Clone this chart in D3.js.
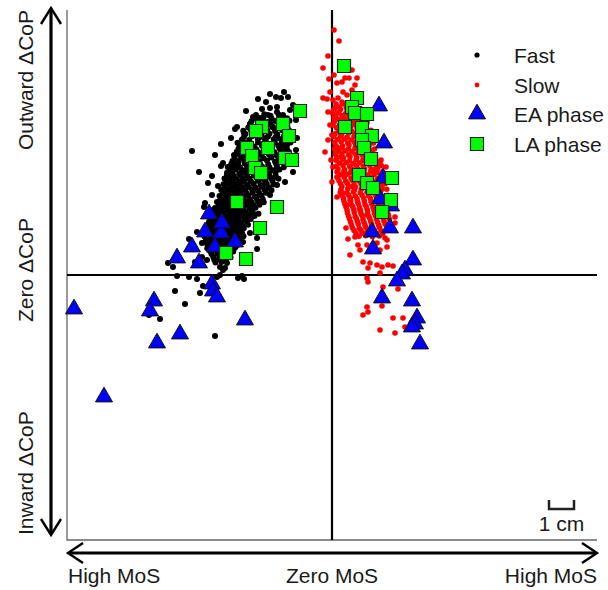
<!DOCTYPE html>
<html>
<head>
<meta charset="utf-8">
<script src="https://cdn.jsdelivr.net/npm/d3@7"></script>
<style>
  body { margin: 0; background: #fff; }
  svg { display: block; }
  text { font-family: "Liberation Sans", Arial, sans-serif; fill: #1a1a1a; }
</style>
</head>
<body>
<svg id="chart" width="608" height="590"></svg>
<script>
// Step-by-step samples: x = margin of stability offset (mm), y = ΔCoP (mm)
const fastPoints = [
  [-29.6,70.4],[-26.4,69.2],[-22.4,71.2],[-20.4,70.8],[-17.6,71.2],[-15.6,68.0],[-22.0,67.2],[-24.8,66.8],
  [-28.0,66.4],[-34.4,65.6],[-31.6,63.2],[-38.0,59.2],[-38.8,58.4],[-40.4,54.8],[-44.4,52.4],[-56.0,49.6],
  [-53.2,41.2],[-49.6,36.8],[-50.8,28.8],[-43.6,44.8],[-44.4,43.6],[-42.0,40.0],[-38.4,44.4],[-23.6,59.2],
  [-22.0,65.2],[-26.4,54.8],[-21.6,54.8],[-14.0,54.8],[-18.0,52.0],[-15.6,41.2],[-18.8,37.2],[-22.0,36.0],
  [-22.8,39.2],[-20.0,45.2],[-24.8,32.0],[-42.0,32.0],[-43.6,29.6],[-40.0,36.0],[-36.0,34.0],[-51.2,27.2],
  [-44.8,29.2],[-40.0,28.8],[-42.8,26.0],[-39.6,24.0],[-36.8,26.0],[-33.6,28.0],[-31.6,24.8],[-34.0,22.0],
  [-36.8,18.8],[-32.8,16.8],[-30.0,14.8],[-30.0,10.4],[-35.6,13.2],[-41.6,15.2],[-40.0,10.0],[-52.0,12.8],
  [-52.0,7.2],[-54.0,17.2],[-54.8,5.2],[-50.0,6.0],[-57.2,14.4],[-65.6,4.8],[-63.6,3.2],[-44.8,3.2],
  [-43.6,2.0],[-62.0,-0.4],[-57.2,-0.8],[-54.0,-1.6],[-51.6,-4.4],[-46.0,-0.8],[-44.8,0.0],[-37.6,-1.2],
  [-35.2,-1.6],[-36.0,-0.4],[-62.8,-6.4],[-52.8,-7.2],[-58.8,-11.6],[-68.8,-17.6],[-73.2,-16.0],[-46.8,-24.4],
  [-42.8,2.8],[-16.8,66.0],[-14.4,62.0],[-19.6,64.0],[-25.6,64.0],[-28.8,62.8],[-32.8,60.4],[-35.2,56.8],
  [-17.2,49.2],[-16.0,46.8],[-14.4,50.0],[-24.8,72.4],[-19.2,73.2],[-46.8,48.0],[-48.0,39.6],[-45.6,35.6],
  [-48.0,32.0],[-47.6,26.0],[-49.2,21.2],[-47.6,18.0],
  [-30.4,64.0],[-27.1,64.3],[-24.6,63.7],[-21.3,64.1],
  [-32.2,61.5],[-28.9,61.8],[-25.8,61.2],[-22.7,61.6],[-19.5,61.3],[-17.0,61.7],
  [-33.5,59.0],[-30.1,59.3],[-26.4,58.8],[-23.9,59.2],[-20.6,58.9],[-17.8,59.1],
  [-34.6,56.4],[-31.5,56.7],[-28.2,56.2],[-25.0,56.5],[-21.9,56.3],[-18.5,56.6],
  [-36.0,54.2],[-33.1,54.0],[-29.7,54.4],[-26.8,54.1],[-23.3,54.3],[-20.2,54.0],[-17.4,54.4],
  [-36.9,51.6],[-34.3,51.9],[-31.2,51.4],[-28.0,51.7],[-24.6,51.5],[-21.5,51.8],[-18.9,51.5],
  [-38.1,49.3],[-35.0,49.1],[-32.6,49.5],[-29.5,49.2],[-26.2,49.4],[-23.0,49.1],[-19.9,49.4],
  [-39.0,46.8],[-36.2,47.0],[-33.8,46.6],[-30.7,46.9],[-27.4,46.7],[-24.3,47.0],[-21.2,46.6],
  [-40.3,44.4],[-37.5,44.2],[-34.9,44.6],[-32.0,44.3],[-28.8,44.5],[-25.5,44.2],[-22.4,44.5],
  [-40.9,42.1],[-38.6,42.3],[-35.7,41.9],[-33.1,42.2],[-30.0,42.0],[-26.9,42.3],[-23.7,41.9],[-21.0,42.2],
  [-41.6,39.7],[-39.2,39.5],[-36.6,39.9],[-34.0,39.6],[-31.2,39.8],[-28.3,39.5],[-25.1,39.9],[-22.5,39.6],
  [-42.2,37.5],[-39.8,37.7],[-37.4,37.3],[-35.1,37.6],[-32.4,37.4],[-29.5,37.7],[-26.6,37.3],[-23.8,37.6],
  [-42.9,35.1],[-40.5,34.9],[-38.3,35.3],[-35.9,35.0],[-33.3,35.2],[-30.6,34.9],[-27.9,35.3],[-25.2,35.0],
  [-43.6,32.8],[-41.3,33.0],[-39.0,32.6],[-36.8,32.9],[-34.2,32.7],[-31.7,33.0],[-29.0,32.6],[-26.4,32.9],
  [-44.5,30.4],[-42.0,30.2],[-39.9,30.6],[-37.6,30.3],[-35.3,30.5],[-32.8,30.2],[-30.2,30.6],[-27.7,30.3],
  [-45.3,28.0],[-43.0,28.2],[-40.8,27.8],[-38.5,28.1],[-36.1,27.9],[-33.7,28.2],[-31.4,27.8],[-29.0,28.1],
  [-46.4,25.7],[-44.1,25.5],[-41.7,25.9],[-39.4,25.6],[-37.2,25.8],[-34.8,25.5],[-32.3,25.9],
  [-47.2,23.5],[-45.0,23.7],[-42.6,23.3],[-40.3,23.6],[-38.0,23.4],[-35.7,23.7],[-33.5,23.3],[-31.0,23.6],
  [-48.0,21.2],[-45.8,21.0],[-43.5,21.4],[-41.2,21.1],[-38.9,21.3],[-36.6,21.0],[-34.1,21.4],
  [-49.1,18.9],[-46.9,19.1],[-44.7,18.7],[-42.1,19.0],[-39.8,18.8],[-37.5,19.1],[-35.3,18.7],
  [-49.8,16.6],[-47.5,16.4],[-45.2,16.8],[-43.0,16.5],[-40.6,16.7],[-38.3,16.4],[-36.0,16.8],
  [-50.4,14.2],[-48.2,14.4],[-45.9,14.0],[-43.8,14.3],[-41.5,14.1],[-39.2,14.4],[-37.0,14.0],
  [-49.6,11.9],[-47.2,11.7],[-44.8,12.1],[-42.5,11.8],[-40.3,12.0],[-38.1,11.7],
  [-48.7,9.5],[-46.3,9.7],[-44.0,9.3],[-41.7,9.6],[-39.5,9.4],
  [-47.5,7.2],[-45.1,7.0],[-42.9,7.4],[-40.6,7.1],
  [-46.6,5.0],[-44.2,5.2],[-42.0,4.8],
  [-31.0,62.8],[-27.5,62.9],[-24.2,62.6],[-20.9,62.9],[-18.0,62.7],
  [-32.8,60.3],[-29.5,60.5],[-27.6,60.1],[-24.6,60.4],[-21.3,60.2],[-18.6,60.5],
  [-35.5,57.7],[-32.4,57.9],[-29.0,57.5],[-25.9,57.8],[-22.8,57.6],[-19.9,57.9],[-16.9,57.6],
  [-35.2,55.3],[-32.0,55.5],[-28.9,55.1],[-25.6,55.4],[-22.5,55.2],[-19.3,55.5],
  [-37.8,52.9],[-35.2,53.1],[-32.5,52.7],[-29.6,53.0],[-26.0,52.8],[-22.9,53.1],[-20.1,52.7],[-16.6,53.0],
  [-37.4,50.5],[-34.0,50.7],[-30.3,50.3],[-27.2,50.6],[-24.0,50.4],[-21.0,50.7],[-18.0,50.3],
  [-39.2,48.0],[-37.0,48.2],[-34.3,47.8],[-31.4,48.1],[-28.3,47.9],[-25.2,48.2],[-22.1,47.8],[-19.0,48.1],
  [-39.8,45.6],[-37.3,45.8],[-35.0,45.4],[-32.3,45.7],[-29.1,45.5],[-26.0,45.8],[-22.8,45.4],[-20.1,45.7],
  [-41.7,43.2],[-39.4,43.4],[-36.8,43.0],[-34.0,43.3],[-31.4,43.1],[-28.0,43.4],[-25.0,43.0],[-22.0,43.3],[-19.3,43.1],
  [-42.0,40.9],[-39.8,41.1],[-37.1,40.7],[-34.6,41.0],[-31.7,40.8],[-28.6,41.1],[-25.5,40.7],[-22.6,41.0],
  [-43.0,38.6],[-40.6,38.8],[-38.2,38.4],[-35.8,38.7],[-33.0,38.5],[-30.1,38.8],[-27.5,38.4],[-24.4,38.7],[-21.4,38.5],
  [-43.4,36.3],[-41.2,36.5],[-38.9,36.1],[-36.5,36.4],[-34.0,36.2],[-31.3,36.5],[-28.6,36.1],[-26.1,36.4],[-23.4,36.2],
  [-44.3,34.0],[-41.9,34.2],[-39.6,33.8],[-37.3,34.1],[-34.7,33.9],[-32.0,34.2],[-29.6,33.8],[-27.0,34.1],[-24.2,33.9],
  [-45.0,31.6],[-42.6,31.8],[-40.4,31.4],[-38.1,31.7],[-35.7,31.5],[-33.4,31.8],[-30.8,31.4],[-28.2,31.7],
  [-46.0,29.2],[-43.7,29.4],[-41.4,29.0],[-39.1,29.3],[-36.9,29.1],[-34.5,29.4],[-32.1,29.0],[-29.6,29.3],[-27.3,29.1],
  [-46.8,26.8],[-44.6,27.0],[-42.3,26.6],[-40.1,26.9],[-37.8,26.7],[-35.5,27.0],[-33.0,26.6],[-30.6,26.9],
  [-47.8,24.6],[-45.5,24.8],[-43.3,24.4],[-41.0,24.7],[-38.7,24.5],[-36.4,24.8],[-34.0,24.4],[-31.8,24.7],[-29.4,24.5],
  [-48.6,22.3],[-46.5,22.5],[-44.2,22.1],[-42.0,22.4],[-39.6,22.2],[-37.3,22.5],[-35.0,22.1],[-32.5,22.4],
  [-49.5,20.0],[-47.4,20.2],[-45.1,19.8],[-42.8,20.1],[-40.4,19.9],[-38.2,20.2],[-35.9,19.8],[-33.6,20.1],
  [-50.3,17.7],[-48.2,17.9],[-46.0,17.5],[-43.8,17.8],[-41.4,17.6],[-39.1,17.9],[-36.8,17.5],
  [-51.0,15.4],[-48.9,15.6],[-46.6,15.2],[-44.4,15.5],[-42.1,15.3],[-39.9,15.6],[-37.6,15.2],[-35.4,15.5],
  [-50.8,13.0],[-48.5,13.2],[-46.3,12.8],[-44.1,13.1],[-41.9,12.9],[-39.7,13.2],[-37.3,12.8],
  [-49.9,10.7],[-47.6,10.9],[-45.4,10.5],[-43.2,10.8],[-41.0,10.6],[-38.8,10.9],
  [-48.2,8.4],[-45.8,8.6],[-43.5,8.2],[-41.2,8.5],
  [-47.1,6.1],[-44.8,6.3],[-42.5,5.9]
];

const slowPoints = [
  [0.8,98.0],[2.8,93.6],[-1.6,87.6],[-3.6,82.8],[-1.2,78.4],[0.8,80.0],[2.0,76.8],[4.0,77.2],
  [6.8,78.8],[8.0,82.0],[9.2,76.0],[8.0,74.0],[4.4,73.2],[6.0,72.0],[-3.6,70.8],[-2.0,70.4],
  [0.4,70.0],[2.4,70.8],[4.0,69.2],[-1.6,65.2],[1.2,66.8],[2.4,64.8],[3.2,62.0],[-0.8,60.0],
  [0.0,56.0],[-2.8,49.2],[2.0,51.2],[3.2,47.2],[0.4,43.2],[0.0,37.2],[2.0,39.2],[4.4,40.8],
  [19.2,44.8],[21.6,43.2],[16.4,42.0],[8.4,35.2],[7.2,30.0],[11.2,26.0],[14.0,24.0],[4.4,32.8],
  [6.0,28.0],[2.0,31.2],[10.0,78.8],[5.2,78.8],[-0.8,73.2],[11.2,72.0],[7.2,68.0],[0.8,62.8],
  [-1.6,54.0],[-0.4,46.0],[1.2,50.0],
  [6.4,14.4],[9.2,15.2],[12.0,16.8],[7.2,8.0],[11.2,10.0],[10.4,12.0],[14.0,12.0],[18.0,12.8],
  [22.0,14.0],[22.0,11.2],[19.2,10.0],[25.2,23.2],[25.2,20.8],[12.4,5.2],[15.2,4.8],[14.4,2.8],
  [18.0,4.0],[20.0,3.2],[22.4,4.0],[24.4,3.6],[14.0,-1.2],[14.4,-2.8],[19.2,0.8],[20.4,-4.8],
  [26.4,-5.6],[20.0,-12.4],[14.0,-12.8],[14.4,-14.8],[12.4,-16.0],[24.4,-17.2],[28.4,-17.2],[19.2,-22.0],
  [25.2,-23.2],[29.2,-20.8],[21.2,14.8],[5.6,18.8],
  [1.6,68.4],[4.3,68.4],[7.0,68.2],[9.8,68.6],
  [0.6,66.0],[3.4,66.2],[6.1,65.8],[8.9,66.1],[11.6,65.9],
  [1.4,63.6],[4.0,63.8],[6.9,63.4],[9.6,63.7],[12.3,63.5],
  [0.9,61.2],[3.6,61.0],[6.2,61.4],[8.8,61.1],[11.5,61.3],[14.0,61.0],
  [1.8,58.9],[4.5,59.1],[7.3,58.7],[10.0,59.0],[12.6,58.8],
  [1.2,56.5],[3.8,56.3],[6.6,56.7],[9.3,56.4],[12.0,56.6],[14.7,56.3],
  [2.3,54.2],[5.0,54.4],[7.7,54.0],[10.4,54.3],[13.1,54.1],[15.4,54.4],
  [1.5,51.8],[4.2,51.6],[6.8,52.0],[9.5,51.7],[12.2,51.9],[14.8,51.6],
  [2.6,49.5],[5.3,49.7],[8.0,49.3],[10.7,49.6],[13.4,49.4],[16.0,49.7],
  [1.9,47.1],[4.6,46.9],[7.2,47.3],[9.9,47.0],[12.6,47.2],[15.3,46.9],[17.4,47.3],
  [3.0,44.8],[5.7,45.0],[8.4,44.6],[11.1,44.9],[13.8,44.7],[16.4,45.0],
  [2.4,42.4],[5.0,42.2],[7.7,42.6],[10.4,42.3],[13.0,42.5],[15.7,42.2],[18.2,42.6],
  [3.5,40.1],[6.2,40.3],[8.9,39.9],[11.6,40.2],[14.3,40.0],[16.9,40.3],
  [2.8,37.7],[5.5,37.5],[8.1,37.9],[10.8,37.6],[13.5,37.8],[16.2,37.5],[18.8,37.9],
  [4.0,35.4],[6.7,35.6],[9.4,35.2],[12.1,35.5],[14.8,35.3],[17.5,35.6],[20.0,35.2],
  [3.3,33.0],[6.0,32.8],[8.6,33.2],[11.3,32.9],[14.0,33.1],[16.7,32.8],[19.3,33.2],
  [4.6,30.7],[7.3,30.9],[10.0,30.5],[12.7,30.8],[15.4,30.6],[18.0,30.9],[20.6,30.5],
  [5.2,28.3],[7.8,28.1],[10.5,28.5],[13.2,28.2],[15.9,28.4],[18.6,28.1],[21.2,28.5],
  [6.0,26.0],[8.7,26.2],[11.4,25.8],[14.1,26.1],[16.8,25.9],[19.5,26.2],
  [6.6,23.6],[9.3,23.4],[12.0,23.8],[14.7,23.5],[17.4,23.7],[20.1,23.4],[22.6,23.8],
  [7.4,21.3],[10.1,21.5],[12.8,21.1],[15.5,21.4],[18.2,21.2],[20.8,21.5],
  [8.2,18.9],[10.9,18.7],[13.6,19.1],[16.3,18.8],[19.0,19.0],
  [9.6,16.6],[12.3,16.8],[15.0,16.4],[17.7,16.7],[20.3,16.5],
  [2.9,67.2],[5.7,67.0],[8.4,67.3],
  [0.2,64.8],[2.7,65.0],[5.5,64.6],[8.2,64.9],[10.6,64.7],
  [2.2,62.4],[5.0,62.6],[7.6,62.2],[10.2,62.5],[12.9,62.3],
  [0.4,60.0],[3.1,60.2],[5.8,59.8],[8.4,60.1],[11.0,59.9],[13.6,60.2],
  [2.6,57.7],[5.2,57.9],[8.0,57.5],[10.7,57.8],[13.3,57.6],[15.6,57.9],
  [0.7,55.3],[3.4,55.5],[6.0,55.1],[8.8,55.4],[11.5,55.2],[14.1,55.5],[16.2,55.1],
  [1.0,53.0],[3.7,53.2],[6.3,52.8],[9.0,53.1],[11.7,52.9],[14.4,53.2],[16.6,52.8],
  [1.1,50.6],[3.9,50.8],[6.6,50.4],[9.2,50.7],[11.9,50.5],[14.5,50.8],[17.0,50.4],
  [1.3,48.3],[4.0,48.5],[6.6,48.1],[9.3,48.4],[12.0,48.2],[14.7,48.5],[17.3,48.1],
  [1.6,45.9],[4.3,46.1],[7.0,45.7],[9.6,46.0],[12.3,45.8],[15.0,46.1],[17.6,45.7],[19.6,46.0],
  [1.8,43.6],[4.4,43.8],[7.1,43.4],[9.8,43.7],[12.5,43.5],[15.1,43.8],[17.7,43.4],[19.8,43.7],
  [2.0,41.2],[4.8,41.4],[7.4,41.0],[10.1,41.3],[12.8,41.1],[15.5,41.4],[18.1,41.0],[20.2,41.3],
  [2.2,38.9],[4.9,39.1],[7.6,38.7],[10.3,39.0],[13.0,38.8],[15.6,39.1],[18.2,38.7],[20.5,39.0],
  [3.4,36.5],[6.1,36.7],[8.8,36.3],[11.5,36.6],[14.2,36.4],[16.8,36.7],[19.4,36.3],[21.4,36.6],
  [3.6,34.2],[6.3,34.4],[9.0,34.0],[11.7,34.3],[14.4,34.1],[17.1,34.4],[19.7,34.0],[21.9,34.3],
  [4.0,31.8],[6.6,32.0],[9.3,31.6],[12.0,31.9],[14.7,31.7],[17.4,32.0],[20.0,31.6],[22.3,31.9],
  [4.8,29.5],[7.5,29.7],[10.2,29.3],[12.9,29.6],[15.6,29.4],[18.3,29.7],[20.9,29.3],[22.8,29.6],
  [5.6,27.2],[8.3,27.4],[11.0,27.0],[13.7,27.3],[16.4,27.1],[19.1,27.4],[21.7,27.0],[23.2,27.3],
  [6.2,24.8],[8.9,25.0],[11.6,24.6],[14.3,24.9],[17.0,24.7],[19.8,25.0],[22.3,24.6],
  [7.0,22.5],[9.7,22.7],[12.4,22.3],[15.1,22.6],[17.8,22.4],[20.5,22.7],[23.0,22.3],
  [7.8,20.1],[10.5,20.3],[13.2,19.9],[15.9,20.2],[18.6,20.0],[21.3,20.3],
  [8.8,17.8],[11.5,18.0],[14.2,17.6],[16.9,17.9],[19.6,17.7],
  [10.8,15.5],[13.5,15.7],[16.2,15.3],[18.9,15.6]
];

const eaPhase = [
  [-103.2,-13.6],[-91.2,-48.8],[-71.2,-10.4],[-72.8,-14.4],[-70.0,-27.2],[-60.8,-23.6],[-34.8,-18.0],
  [-62.0,6.8],[-56.0,11.2],[-53.2,4.8],[-50.8,17.2],[-49.2,24.4],[-46.8,11.2],[-44.4,16.8],[-44.0,20.8],
  [-38.8,13.2],[-48.0,-3.6],[-47.6,-6.4],[-46.0,-8.8],
  [18.8,67.6],[20.8,52.8],[20.4,38.8],[19.2,30.4],[23.6,27.6],[16.0,17.2],[23.2,18.8],[32.4,18.8],
  [16.4,10.4],[32.4,6.0],[29.2,2.0],[28.0,0.4],[26.0,-2.4],[20.0,-9.2],[32.0,-10.4],[34.0,-17.2],
  [33.2,-19.6],[32.0,-20.8],[35.2,-27.6]
];

const laPhase = [
  [-12.8,65.6],[-28.0,59.2],[-19.6,60.4],[-30.4,57.6],[-17.2,55.6],[-25.6,50.8],[-34.0,50.8],[-32.0,47.6],
  [-18.8,46.8],[-16.0,46.0],[-30.8,42.8],[-28.4,40.8],[-38.0,29.2],[-22.0,27.2],[-28.8,18.8],[-42.4,8.8],
  [-34.4,6.4],
  [4.8,83.6],[10.0,70.8],[8.0,67.2],[9.2,64.8],[14.0,64.4],[5.2,59.2],[12.0,58.8],[16.0,55.6],
  [12.0,54.0],[12.8,50.8],[15.6,46.4],[10.8,40.0],[14.0,36.8],[24.0,38.8],[16.4,34.8],[23.6,30.0],
  [20.0,25.2]
];

const legendLabels = ["Fast", "Slow", "EA phase", "LA phase"];
const yAxisLabels = ["Outward ΔCoP", "Zero ΔCoP", "Inward ΔCoP"];
const xAxisLabels = ["High MoS", "Zero MoS", "High MoS"];
const scaleBarMM = 10;
const extentMM = 106;

const svg = d3.select("#chart");
const x = d3.scaleLinear().domain([-extentMM, extentMM]).range([67, 597]);
const y = d3.scaleLinear().domain([-extentMM, extentMM]).range([540, 10]);

// plot frame: left and bottom edges
svg.append("path")
  .attr("d", `M${x(-extentMM)},${y(extentMM)} V${y(-extentMM)} H${x(extentMM)}`)
  .attr("fill", "none").attr("stroke", "#666").attr("stroke-width", 1.3);

// zero reference lines
svg.append("line")
  .attr("x1", x(0)).attr("x2", x(0)).attr("y1", y(extentMM)).attr("y2", y(-extentMM))
  .attr("stroke", "#000").attr("stroke-width", 2.2);
svg.append("line")
  .attr("x1", x(-extentMM)).attr("x2", x(extentMM)).attr("y1", y(0)).attr("y2", y(0))
  .attr("stroke", "#000").attr("stroke-width", 2.2);

// double-headed direction arrows
const arrows = svg.append("g").attr("fill", "none").attr("stroke", "#000")
  .attr("stroke-linecap", "butt").attr("stroke-linejoin", "miter");
const ax = 51, ay0 = 8, ay1 = 535;
arrows.append("line").attr("x1", ax).attr("x2", ax).attr("y1", ay0 + 1).attr("y2", ay1 - 1).attr("stroke-width", 3.2);
arrows.append("path").attr("d", `M${ax - 10},${ay0 + 16} L${ax},${ay0} L${ax + 10},${ay0 + 16}`).attr("stroke-width", 2.4);
arrows.append("path").attr("d", `M${ax - 10},${ay1 - 16} L${ax},${ay1} L${ax + 10},${ay1 - 16}`).attr("stroke-width", 2.4);
const hy = 553, hx0 = 68, hx1 = 597;
arrows.append("line").attr("x1", hx0 + 1).attr("x2", hx1 - 1).attr("y1", hy).attr("y2", hy).attr("stroke-width", 3.2);
arrows.append("path").attr("d", `M${hx0 + 15},${hy - 10} L${hx0},${hy} L${hx0 + 15},${hy + 10}`).attr("stroke-width", 2.4);
arrows.append("path").attr("d", `M${hx1 - 15},${hy - 10} L${hx1},${hy} L${hx1 - 15},${hy + 10}`).attr("stroke-width", 2.4);

// walking speed samples
svg.append("g").selectAll("circle").data(fastPoints).join("circle")
  .attr("cx", d => x(d[0])).attr("cy", d => y(d[1])).attr("r", 3.0).attr("fill", "#000");
svg.append("g").selectAll("circle").data(slowPoints).join("circle")
  .attr("cx", d => x(d[0])).attr("cy", d => y(d[1])).attr("r", 2.8).attr("fill", "#ff0000");

// phase markers
const tri = d3.symbol(d3.symbolTriangle, 125);
const sq = d3.symbol(d3.symbolSquare, 169);
svg.append("g").selectAll("path").data(eaPhase).join("path")
  .attr("d", tri).attr("transform", d => `translate(${x(d[0])},${y(d[1])})`)
  .attr("fill", "#0000ff").attr("stroke", "#111").attr("stroke-width", 1);
svg.append("g").selectAll("path").data(laPhase).join("path")
  .attr("d", sq).attr("transform", d => `translate(${x(d[0])},${y(d[1])})`)
  .attr("fill", "#00ff00").attr("stroke", "#222").attr("stroke-width", 1.2);

// legend
const legendY = [55, 85, 114, 144];
const lg = svg.append("g");
lg.append("circle").attr("cx", 477).attr("cy", legendY[0]).attr("r", 2.6).attr("fill", "#000");
lg.append("circle").attr("cx", 477).attr("cy", legendY[1]).attr("r", 2.4).attr("fill", "#ff0000");
lg.append("path").attr("d", tri).attr("transform", `translate(477,${legendY[2]})`)
  .attr("fill", "#0000ff").attr("stroke", "#111").attr("stroke-width", 1);
lg.append("path").attr("d", sq).attr("transform", `translate(477,${legendY[3]})`)
  .attr("fill", "#00ff00").attr("stroke", "#222").attr("stroke-width", 1.2);
lg.selectAll("text").data(legendLabels).join("text")
  .attr("x", 514).attr("y", (d, i) => legendY[i]).attr("dy", "0.36em")
  .attr("font-size", 21).text(d => d);

// vertical axis captions
const yPos = [[10, "end"], [270, "middle"], [535, "start"]];
svg.append("g").selectAll("text").data(yAxisLabels).join("text")
  .attr("transform", (d, i) => `translate(33,${yPos[i][0]}) rotate(-90)`)
  .attr("text-anchor", (d, i) => yPos[i][1])
  .attr("font-size", 21).text(d => d);

// horizontal axis captions
const xPos = [[68, "start"], [x(0), "middle"], [597, "end"]];
svg.append("g").selectAll("text").data(xAxisLabels).join("text")
  .attr("x", (d, i) => xPos[i][0]).attr("y", 583)
  .attr("text-anchor", (d, i) => xPos[i][1])
  .attr("font-size", 21).text(d => d);

// 1 cm scale bar
const sb0 = 549, sb1 = sb0 + (x(scaleBarMM) - x(0));
svg.append("path")
  .attr("d", `M${sb0},500 V509 H${sb1} V500`)
  .attr("fill", "none").attr("stroke", "#222").attr("stroke-width", 2.5);
svg.append("text").attr("x", (sb0 + sb1) / 2).attr("y", 531)
  .attr("text-anchor", "middle").attr("font-size", 21).text("1 cm");
</script>
</body>
</html>
